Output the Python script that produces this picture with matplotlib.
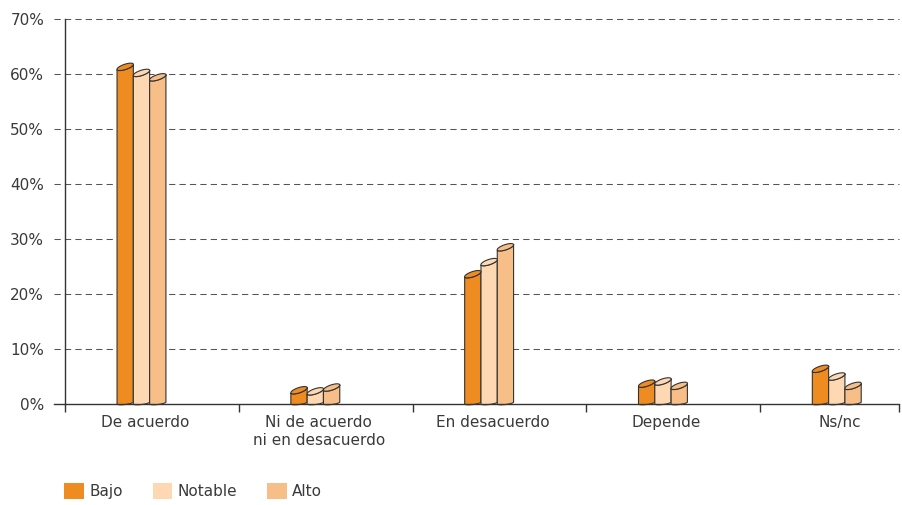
import numpy as np
import matplotlib
matplotlib.use('Agg')
import matplotlib.pyplot as plt
from matplotlib.patches import Polygon, Patch

# data
categories = ['De acuerdo', 'Ni de acuerdo\nni en desacuerdo', 'En desacuerdo', 'Depende', 'Ns/nc']
series_names = ['Bajo', 'Notable', 'Alto']
bajo = [61.3, 2.5, 23.6, 3.7, 6.4]
notable = [60.2, 2.3, 25.8, 4.1, 5.0]
alto = [59.4, 3.0, 28.5, 3.3, 3.3]
y_ticks = [0, 10, 20, 30, 40, 50, 60, 70]
y_labels = ['0%', '10%', '20%', '30%', '40%', '50%', '60%', '70%']

colors = ['#EE8B21', '#FDD8B2', '#F7BE87']
edge = '#333333'
text_col = '#3a3a3a'

plt.rcParams['font.family'] = ['DejaVu Sans']

W, H = 903, 505
fig = plt.figure(figsize=(W / 100, H / 100), dpi=100)
ax_w, ax_h = 834, 385
ax = fig.add_axes([65 / W, 101 / H, ax_w / W, ax_h / H])
xmin, xmax = -0.5, 4.298
ax.set_xlim(xmin, xmax)
ax.set_ylim(0, 70)

sx = ax_w / (xmax - xmin)   # px per x unit
sy = ax_h / 70.0            # px per y unit


def ellipse_pts(cx, cy, wpx, tilt, b, t):
    # tilted ellipse, sizes in pixels, result in data coords
    n = np.hypot(wpx, tilt)
    bx, by = -tilt / n * b, wpx / n * b
    px = wpx / 2 * np.cos(t) + bx * np.sin(t)
    py = tilt / 2 * np.cos(t) + by * np.sin(t)
    return np.column_stack([cx + px / sx, cy + py / sy])


bar_px = 16.3
bw = bar_px / sx
pos = np.arange(len(categories))
group_off = -0.06
lower = np.linspace(np.pi, 2 * np.pi, 30)
full = np.linspace(0, 2 * np.pi, 60)

for i, (vals, col) in enumerate(zip([bajo, notable, alto], colors)):
    for c, v in zip(pos, vals):
        cx = c + group_off + (i - 1) * bw
        bottom = ellipse_pts(cx, 1.0 / sy, bar_px, 2.0, 1.5, lower)
        top = ellipse_pts(cx, v, bar_px, 5.5, 2.6, lower)[::-1]
        front = Polygon(np.vstack([bottom, top]), closed=True, facecolor=col,
                        edgecolor=edge, linewidth=0.8, zorder=3, clip_on=False)
        ax.add_patch(front)
        cap = Polygon(ellipse_pts(cx, v, bar_px, 5.5, 2.6, full), closed=True,
                      facecolor=col, edgecolor=edge, linewidth=0.8, zorder=4, clip_on=False)
        ax.add_patch(cap)

# dashed grid running a little left of the axis
for y in y_ticks[1:]:
    ax.axhline(y, xmin=-11 / ax_w, xmax=1, color='#555555', linewidth=0.75,
               dashes=(6, 4), zorder=1, clip_on=False)
ax.axhline(0, xmin=-11 / ax_w, xmax=0, color=edge, linewidth=1, clip_on=False)

for s in ['top', 'right']:
    ax.spines[s].set_visible(False)
for s in ['left', 'bottom']:
    ax.spines[s].set_color(edge)
    ax.spines[s].set_linewidth(1)
    ax.spines[s].set_zorder(5)

ax.set_yticks(y_ticks)
ax.set_yticklabels(y_labels)
ax.tick_params(axis='y', length=0, pad=15, labelsize=11, labelcolor=text_col)

ax.set_xticks([-0.5, 0.5, 1.5, 2.5, 3.5, xmax])
ax.set_xticklabels([])
ax.tick_params(axis='x', which='major', direction='out', length=6, width=1, color=edge)
ax.set_xticks(pos - 0.04, minor=True)
ax.set_xticklabels(categories, minor=True)
ax.tick_params(axis='x', which='minor', length=0, pad=8, labelsize=11, labelcolor=text_col)

handles = [Patch(facecolor=c, edgecolor='none', label=n) for c, n in zip(colors, series_names)]
fig.legend(handles=handles, loc='center left', bbox_to_anchor=(64 / W, 1 - 491 / H),
           ncol=3, frameon=False, fontsize=11, labelcolor=text_col,
           handlelength=1.3, handleheight=1.2, handletextpad=0.35,
           columnspacing=1.95, borderpad=0, borderaxespad=0)

fig.savefig('out.png', dpi=100)
